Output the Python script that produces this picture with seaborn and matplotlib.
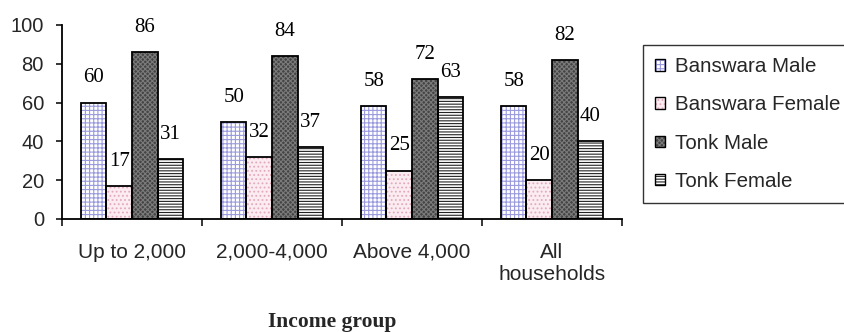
import matplotlib
matplotlib.use("Agg")
import matplotlib.pyplot as plt
import seaborn as sns
import pandas as pd
from matplotlib.patches import Patch
from matplotlib.legend_handler import HandlerTuple

categories = ["Up to 2,000", "2,000-4,000", "Above 4,000", "All\nhouseholds"]
series = ["Banswara Male", "Banswara Female", "Tonk Male", "Tonk Female"]
banswara_male = [60, 50, 58, 58]
banswara_female = [17, 32, 25, 20]
tonk_male = [86, 84, 72, 82]
tonk_female = [31, 37, 63, 40]
y_ticks = [0, 20, 40, 60, 80, 100]
x_title = "Income group"

values = [banswara_male, banswara_female, tonk_male, tonk_female]
rows = []
for s, vals in zip(series, values):
    for c, v in zip(categories, vals):
        rows.append({"group": c, "series": s, "value": v})
df = pd.DataFrame(rows)

styles = {
    "Banswara Male": dict(face="#ffffff", hatch="++++", hcol="#9a9ade"),
    "Banswara Female": dict(face="#fbecf1", hatch="....", hcol="#e3a9bd"),
    "Tonk Male": dict(face="#444444", hatch="xxxxxxx", hcol="#7a7a7a"),
    "Tonk Female": dict(face="#ffffff", hatch="------", hcol="#222222"),
}

sns.set_style("white")
plt.rcParams["hatch.linewidth"] = 0.8
sans = ["Liberation Sans", "DejaVu Sans"]
serif = ["Liberation Serif", "DejaVu Serif"]

fig = plt.figure(figsize=(8.44, 3.32), dpi=100)
ax = fig.add_axes([62 / 844, 1 - 219 / 332, 560 / 844, 194 / 332])

sns.barplot(data=df, x="group", y="value", hue="series", order=categories,
            hue_order=series, width=0.73, ax=ax, legend=False,
            palette=["#ffffff"] * 4, saturation=1, errorbar=None)
for s, cont in zip(series, ax.containers):
    st = styles[s]
    for p in cont.patches:
        p.set_facecolor(st["face"])
        p.set_hatch(st["hatch"])
        p.set_edgecolor(st["hcol"])
        p.set_linewidth(0)

sns.barplot(data=df, x="group", y="value", hue="series", order=categories,
            hue_order=series, width=0.73, ax=ax, legend=False, fill=False,
            palette=["black"] * 4, errorbar=None, linewidth=1.3)
for cont in ax.containers[4:]:
    for p in cont.patches:
        p.set_edgecolor("black")
        p.set_linewidth(1.3)

for cont in ax.containers[:4]:
    ax.bar_label(cont, labels=[f"{v:.0f}" for v in cont.datavalues],
                 padding=11, fontsize=15, family=serif, color="black")

ax.set_ylim(0, 100)
ax.set_xlim(-0.5, 3.5)
ax.set_yticks(y_ticks)
ax.set_xticks(range(len(categories)))
ax.set_xticklabels(categories, fontsize=15, family=sans, linespacing=1.25)
ax.set_xticks([-0.5, 0.5, 1.5, 2.5, 3.5], minor=True)
ax.tick_params(axis="x", which="major", length=0, pad=17)
ax.tick_params(axis="x", which="minor", length=5, width=1.1, color="black", direction="out", bottom=True)
ax.tick_params(axis="y", length=4, width=1.1, color="black", direction="out", pad=9, left=True, labelsize=14.5)
for lab in ax.get_yticklabels():
    lab.set_family(sans)
ax.set_xlabel("")
ax.set_ylabel("")
sns.despine(ax=ax)
for sp in ["left", "bottom"]:
    ax.spines[sp].set_color("black")
    ax.spines[sp].set_linewidth(1.3)

handles = []
for s in series:
    st = styles[s]
    handles.append((Patch(facecolor=st["face"], hatch=st["hatch"], edgecolor=st["hcol"], linewidth=0),
                    Patch(fill=False, edgecolor="black", linewidth=1.0)))
leg = fig.legend(handles, series, loc="upper left", bbox_to_anchor=(643 / 844, 1 - 45 / 332),
                 bbox_transform=fig.transFigure, frameon=True, fancybox=False,
                 edgecolor="black", borderaxespad=0, handlelength=0.48, handleheight=0.48,
                 handletextpad=0.5, labelspacing=0.93, borderpad=0.6,
                 handler_map={tuple: HandlerTuple(ndivide=1, pad=0)},
                 prop={"family": sans, "size": 14.8})
leg.get_frame().set_linewidth(1.0)

fig.text(332 / 844, 1 - 322 / 332, x_title, ha="center", va="center",
         fontsize=15.5, fontweight="bold", family=serif)

fig.savefig("out.png", dpi=100)
